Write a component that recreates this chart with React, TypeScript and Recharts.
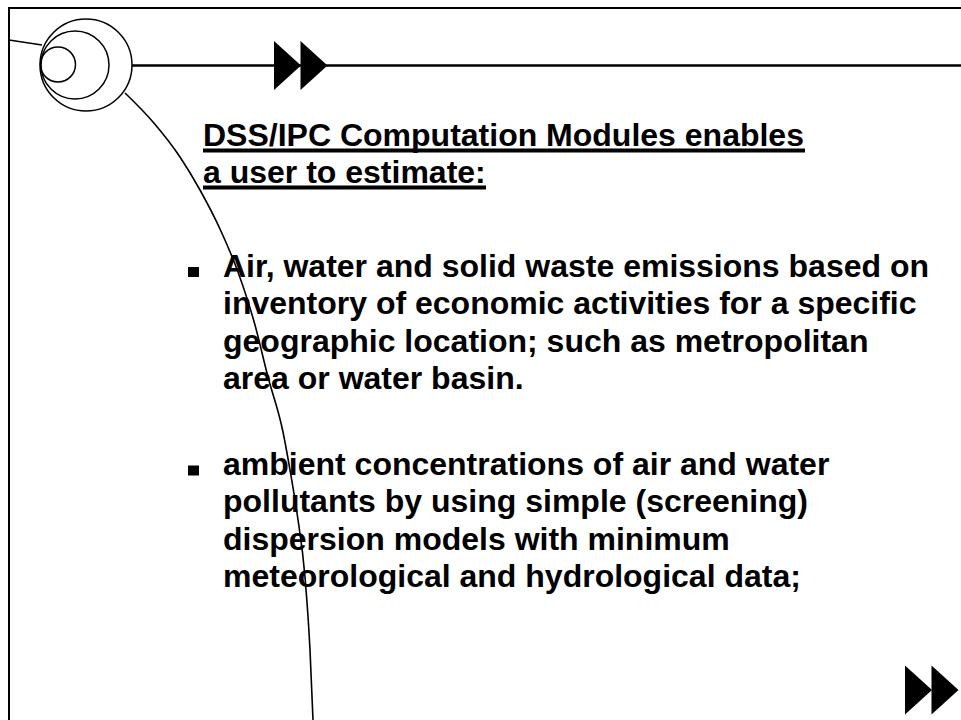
import React from "react";
import {
  ComposedChart,
  XAxis,
  YAxis,
  Line,
  Scatter,
  ReferenceLine,
  ReferenceDot,
} from "recharts";

// slide drawn in page-pixel coordinates (x: 0..961, y: 0..720 downward)
const arcPoints = [
  { x: 125, y: 93 },
  { x: 153, y: 122 },
  { x: 180, y: 157 },
  { x: 200, y: 190 },
  { x: 220, y: 229 },
  { x: 238, y: 272 },
  { x: 255, y: 325 },
  { x: 268, y: 377 },
  { x: 283, y: 432 },
  { x: 290, y: 470 },
  { x: 297, y: 513 },
  { x: 305, y: 577 },
  { x: 310, y: 650 },
  { x: 313, y: 720 },
];

const rings = [
  { x: 86, y: 65, r: 46 },
  { x: 75, y: 65, r: 34 },
  { x: 58, y: 64.5, r: 17.5 },
];

const arrowHeads = [
  { x: 287.5, y: 65.5 },
  { x: 314, y: 65.5 },
  { x: 918.5, y: 690 },
  { x: 945, y: 690 },
];

const titleLines = [
  { x: 203, y: 146, text: "DSS/IPC Computation Modules enables" },
  { x: 203, y: 183, text: "a user to estimate:" },
];

// underline spans under the two title lines
const titleUnderlines = [
  { x1: 203, x2: 805, y: 150.5 },
  { x1: 203, x2: 486, y: 187.5 },
];

const bulletMarks = [
  { x: 193.5, y: 272 },
  { x: 193.5, y: 470.5 },
];

const bodyLines = [
  { x: 223, y: 277, text: "Air, water and solid waste emissions based on" },
  { x: 223, y: 314, text: "inventory of economic activities for a specific" },
  { x: 223, y: 352, text: "geographic location; such as metropolitan" },
  { x: 223, y: 389, text: "area or water basin." },
  { x: 223, y: 475, text: "ambient concentrations of air and water" },
  { x: 223, y: 512, text: "pollutants by using simple (screening)" },
  { x: 223, y: 550, text: "dispersion models with minimum" },
  { x: 223, y: 587, text: "meteorological and hydrological data;" },
];

const FONT = "'Liberation Sans', Arial, sans-serif";

const TriangleShape = (props: any) => {
  const { cx, cy } = props;
  return (
    <polygon
      points={`${cx - 13.5},${cy - 24.5} ${cx + 13.5},${cy} ${cx - 13.5},${cy + 24.5}`}
      fill="#000"
    />
  );
};

const SquareShape = (props: any) => {
  const { cx, cy } = props;
  return <rect x={cx - 5.5} y={cy - 5} width={11} height={10} fill="#000" />;
};

const TextShape = (props: any) => {
  const { cx, cy, payload } = props;
  return (
    <text
      x={cx}
      y={cy}
      fontFamily={FONT}
      fontWeight="bold"
      fontSize={32}
      fill="#000"
    >
      {payload.text}
    </text>
  );
};

export default function App() {
  return (
    <div
      style={{
        position: "absolute",
        left: 0,
        top: 0,
        width: 961,
        height: 720,
        overflow: "hidden",
        background: "#fff",
      }}
    >
      <ComposedChart
        width={961}
        height={720}
        margin={{ top: 0, right: 0, bottom: 0, left: 0 }}
      >
        <XAxis type="number" dataKey="x" domain={[0, 961]} allowDataOverflow hide />
        <YAxis type="number" dataKey="y" domain={[0, 720]} allowDataOverflow reversed hide />

        <ReferenceLine segment={[{ x: 8, y: 8 }, { x: 961, y: 8 }]} stroke="#000" strokeWidth={2} ifOverflow="visible" />
        <ReferenceLine segment={[{ x: 9, y: 8 }, { x: 9, y: 720 }]} stroke="#000" strokeWidth={2} ifOverflow="visible" />
        <ReferenceLine segment={[{ x: 132, y: 65.5 }, { x: 961, y: 65.5 }]} stroke="#000" strokeWidth={2.5} ifOverflow="visible" />
        <ReferenceLine segment={[{ x: 9, y: 40 }, { x: 42, y: 45 }]} stroke="#000" strokeWidth={1.5} ifOverflow="visible" />

        {titleUnderlines.map((u, i) => (
          <ReferenceLine
            key={`u${i}`}
            segment={[{ x: u.x1, y: u.y }, { x: u.x2, y: u.y }]}
            stroke="#000"
            strokeWidth={4}
            ifOverflow="visible"
          />
        ))}

        {rings.map((c, i) => (
          <ReferenceDot
            key={i}
            x={c.x}
            y={c.y}
            r={c.r}
            fill="none"
            stroke="#000"
            strokeWidth={1.5}
            ifOverflow="visible"
          />
        ))}

        <Line
          data={arcPoints}
          dataKey="y"
          type="monotone"
          stroke="#000"
          strokeWidth={1.6}
          dot={false}
          activeDot={false}
          isAnimationActive={false}
        />

        <Scatter data={arrowHeads} shape={TriangleShape} isAnimationActive={false} />
        <Scatter data={bulletMarks} shape={SquareShape} isAnimationActive={false} />
        <Scatter data={titleLines} shape={TextShape} isAnimationActive={false} />
        <Scatter data={bodyLines} shape={TextShape} isAnimationActive={false} />
      </ComposedChart>
    </div>
  );
}
